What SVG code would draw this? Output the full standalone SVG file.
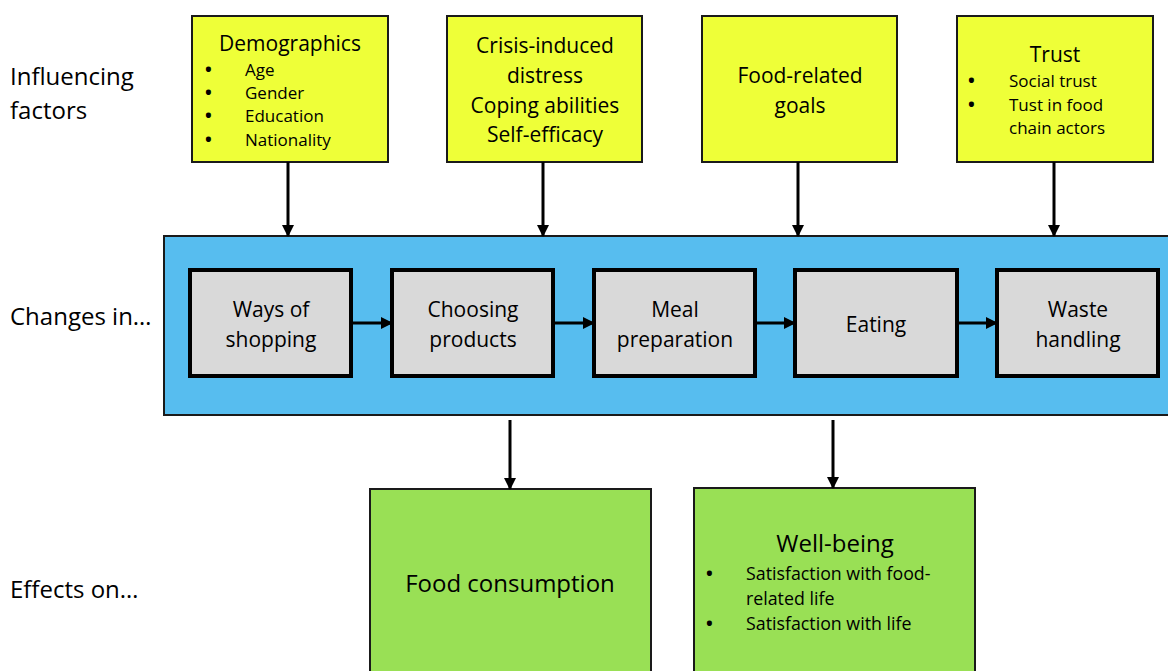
<svg xmlns="http://www.w3.org/2000/svg" width="1168" height="671" viewBox="0 0 1168 671">
<defs>
<marker id="ah" markerWidth="12" markerHeight="12" refX="11" refY="6" orient="auto" markerUnits="userSpaceOnUse">
<path d="M0,0 L12,6 L0,12 z" fill="#000"/>
</marker>
<style>
text{font-family:"Open Sans","Liberation Sans",sans-serif;fill:#000}
.yel{fill:#eeff38;stroke:#1a1a1a;stroke-width:2}
.grey{fill:#d9d9d9;stroke:#000;stroke-width:4}
.grn{fill:#99e055;stroke:#1a1a1a;stroke-width:2}
.side{font-size:24px}
.t22{font-size:21px;text-anchor:middle}
.t16{font-size:17px}
.b{font-size:18px;font-weight:bold}
.mid{text-anchor:middle}
.con{stroke:#000;stroke-width:3;fill:none;marker-end:url(#ah)}
</style>
</defs>
<rect width="1168" height="671" fill="#fff"/>
<g id="labels">
<text class="side" x="10" y="85">Influencing</text>
<text class="side" x="10" y="119">factors</text>
<text class="side" x="10" y="325">Changes in…</text>
<text class="side" x="10" y="598">Effects on…</text>
</g>
<g id="changes-area"><rect x="164" y="236" width="1010" height="179" fill="#57bdef" stroke="#1a1a1a" stroke-width="2"/></g>
<g id="demographics">
<rect class="yel" x="192" y="16" width="196" height="146"/>
<text class="t22" x="290" y="51">Demographics</text>
<text class="b" x="205" y="76">•</text><text class="t16" x="245" y="76">Age</text>
<text class="b" x="205" y="99">•</text><text class="t16" x="245" y="99">Gender</text>
<text class="b" x="205" y="122">•</text><text class="t16" x="245" y="122">Education</text>
<text class="b" x="205" y="146">•</text><text class="t16" x="245" y="146">Nationality</text>
</g>
<g id="crisis">
<rect class="yel" x="447" y="16" width="195" height="146"/>
<text class="t22" x="545" y="53">Crisis-induced</text>
<text class="t22" x="545" y="83">distress</text>
<text class="t22" x="545" y="113">Coping abilities</text>
<text class="t22" x="545" y="142">Self-efficacy</text>
</g>
<g id="goals">
<rect class="yel" x="702" y="16" width="195" height="146"/>
<text class="t22" x="800" y="83">Food-related</text>
<text class="t22" x="800" y="113">goals</text>
</g>
<g id="trust">
<rect class="yel" x="957" y="16" width="196" height="146"/>
<text class="t22" x="1055" y="62">Trust</text>
<text class="b" x="968" y="87">•</text><text class="t16" x="1009" y="87">Social trust</text>
<text class="b" x="968" y="111">•</text><text class="t16" x="1009" y="111">Tust in food</text>
<text class="t16" x="1009" y="134">chain actors</text>
</g>
<g id="shopping"><rect class="grey" x="190" y="270" width="161" height="106"/>
<text class="t22" x="271" y="317">Ways of</text><text class="t22" x="271" y="347">shopping</text></g>
<g id="choosing"><rect class="grey" x="392" y="270" width="161" height="106"/>
<text class="t22" x="473" y="317">Choosing</text><text class="t22" x="473" y="347">products</text></g>
<g id="meal"><rect class="grey" x="594" y="270" width="161" height="106"/>
<text class="t22" x="675" y="317">Meal</text><text class="t22" x="675" y="347">preparation</text></g>
<g id="eating"><rect class="grey" x="795" y="270" width="162" height="106"/>
<text class="t22" x="876" y="332">Eating</text></g>
<g id="waste"><rect class="grey" x="997" y="270" width="161" height="106"/>
<text class="t22" x="1078" y="317">Waste</text><text class="t22" x="1078" y="347">handling</text></g>
<g id="consumption"><rect class="grn" x="370" y="489" width="281" height="190"/>
<text class="mid" x="510" y="592" font-size="24">Food consumption</text></g>
<g id="wellbeing"><rect class="grn" x="694" y="488" width="281" height="190"/>
<text class="mid" x="835" y="552" font-size="24">Well-being</text>
<text class="b" x="706" y="580">•</text><text x="746" y="580" font-size="17.8">Satisfaction with food-</text>
<text x="746" y="605" font-size="17.8">related life</text>
<text class="b" x="706" y="630">•</text><text x="746" y="630" font-size="17.8">Satisfaction with life</text>
</g>
<g id="connectors">
<line class="con" x1="288" y1="162" x2="288" y2="236"/>
<line class="con" x1="543" y1="162" x2="543" y2="236"/>
<line class="con" x1="798" y1="162" x2="798" y2="236"/>
<line class="con" x1="1054" y1="162" x2="1054" y2="236"/>
<line class="con" x1="353" y1="323" x2="392" y2="323"/>
<line class="con" x1="555" y1="323" x2="594" y2="323"/>
<line class="con" x1="757" y1="323" x2="795" y2="323"/>
<line class="con" x1="959" y1="323" x2="997" y2="323"/>
<line class="con" x1="510" y1="420" x2="510" y2="489"/>
<line class="con" x1="833" y1="420" x2="833" y2="488"/>
</g>
</svg>
